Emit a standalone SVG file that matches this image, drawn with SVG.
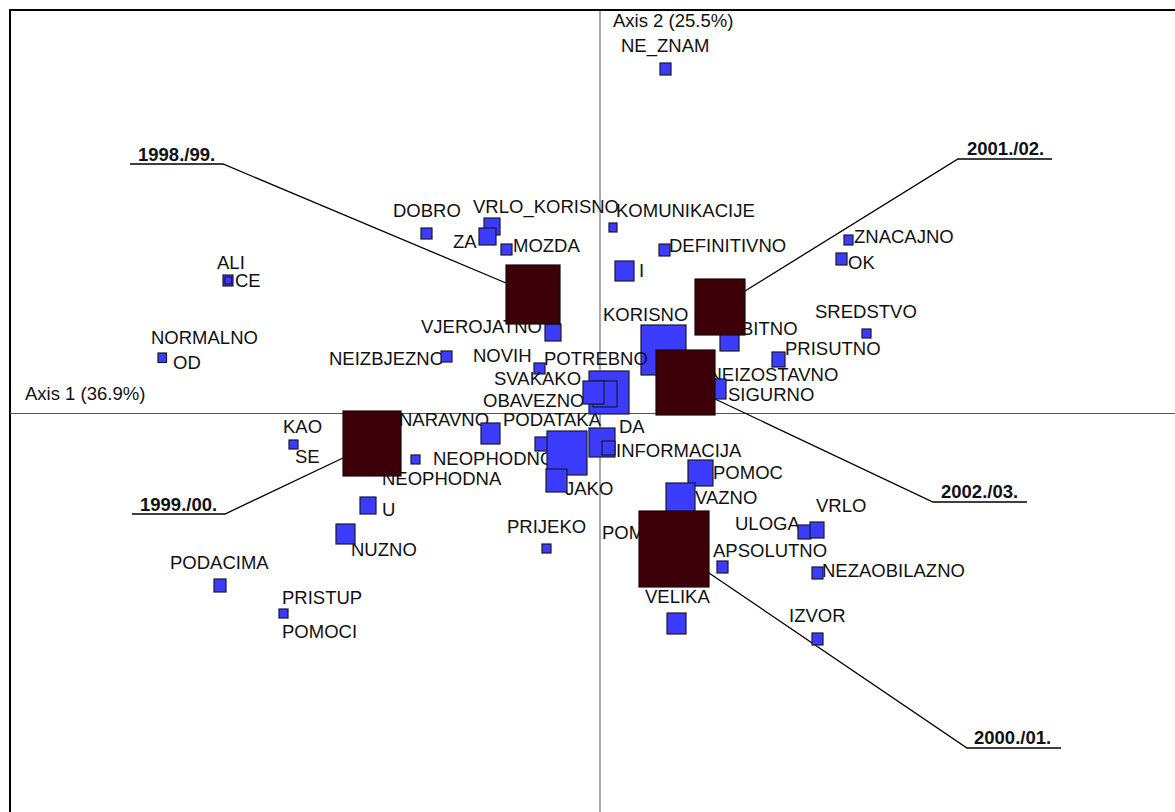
<svg xmlns="http://www.w3.org/2000/svg" width="1175" height="812" viewBox="0 0 1175 812">
<style>
text{font-family:"Liberation Sans",Arial,sans-serif;font-size:18.5px;fill:#111}
.yr{font-weight:bold}
.b{fill:#3c3cff;stroke:#1a1a2a;stroke-width:1.2}
.p{fill:#3d0008;stroke:#1a0a0a;stroke-width:1.2}
.ax{stroke:#555;stroke-width:1}
.ld{fill:none;stroke:#000;stroke-width:1.3}
</style>
<rect width="1175" height="812" fill="#fff"/>
<path d="M10,812 V10 H1175" fill="none" stroke="#000" stroke-width="2"/>
<g id="axes">
<line class="ax" x1="10" y1="413.5" x2="1175" y2="413.5"/>
<line class="ax" x1="600" y1="10" x2="600" y2="812"/>
<text x="25" y="400">Axis 1 (36.9%)</text>
<text x="613" y="27">Axis 2 (25.5%)</text>
</g>
<g id="connectors">
<polyline class="ld" points="130,164 223,164 506,283"/>
<polyline class="ld" points="1052,159 958,159 745,291"/>
<polyline class="ld" points="1027,502 933,502 715,399"/>
<polyline class="ld" points="132,514 225,514 343,458"/>
<polyline class="ld" points="1061,748 967,748 709,573"/>
</g>
<g id="n-ne_znam"><text x="621" y="52">NE_ZNAM</text><rect class="b" x="660" y="63" width="11" height="12"/></g>
<g id="n-dobro"><text x="393" y="217">DOBRO</text><rect class="b" x="421" y="228" width="11" height="11"/></g>
<g id="n-vrlo_korisno"><text x="473" y="213">VRLO_KORISNO</text><rect class="b" x="484" y="218" width="16" height="17"/></g>
<g id="n-za"><text x="453" y="248">ZA</text><rect class="b" x="479" y="228" width="17" height="17"/></g>
<g id="n-mozda"><text x="513" y="252">MOZDA</text><rect class="b" x="501" y="244" width="11" height="11"/></g>
<g id="n-komunikacije"><text x="616" y="216.5">KOMUNIKACIJE</text><rect class="b" x="609" y="223" width="8" height="9"/></g>
<g id="n-definitivno"><text x="669" y="252">DEFINITIVNO</text><rect class="b" x="659" y="244" width="11" height="12"/></g>
<g id="n-i"><text x="639" y="276.5">I</text><rect class="b" x="615" y="261" width="19" height="20"/></g>
<g id="n-znacajno"><text x="854" y="242.5">ZNACAJNO</text><rect class="b" x="844" y="235" width="9" height="10"/></g>
<g id="n-ok"><text x="848" y="269">OK</text><rect class="b" x="836" y="253" width="11" height="12"/></g>
<g id="n-ali"><text x="217" y="269">ALI</text><rect class="b" x="223" y="275" width="10" height="11"/></g>
<g id="n-ce"><text x="235" y="286.5">CE</text><rect class="b" x="225" y="277" width="6.5" height="7"/></g>
<g id="n-normalno"><text x="151" y="344">NORMALNO</text></g>
<g id="n-od"><text x="173" y="368.5">OD</text><rect class="b" x="158" y="353" width="8.5" height="9.5"/></g>
<g id="n-sredstvo"><text x="815" y="318">SREDSTVO</text><rect class="b" x="862" y="329" width="9" height="9"/></g>
<g id="n-vjerojatno"><text x="421" y="333">VJEROJATNO</text><rect class="b" x="545" y="324" width="16" height="17"/></g>
<g id="n-korisno"><text x="603" y="320.5">KORISNO</text><rect class="b" x="641" y="325" width="45" height="50"/></g>
<g id="n-bitno"><text x="741" y="335">BITNO</text><rect class="b" x="720" y="332" width="19" height="19"/></g>
<g id="n-neizbjezno"><text x="329" y="365">NEIZBJEZNO</text><rect class="b" x="441" y="351" width="11" height="11"/></g>
<g id="n-novih"><text x="473" y="362">NOVIH</text><rect class="b" x="534" y="363" width="11" height="11"/></g>
<g id="n-svakako"><text x="494" y="385">SVAKAKO</text></g>
<g id="n-obavezno"><text x="483" y="406.5">OBAVEZNO</text></g>
<g id="n-potrebno"><text x="544" y="365">POTREBNO</text><rect class="b" x="589" y="371" width="40" height="43"/><rect class="b" x="593" y="381" width="24" height="26"/><rect class="b" x="583" y="381" width="21" height="23"/></g>
<g id="n-prisutno"><text x="785" y="355">PRISUTNO</text><rect class="b" x="772" y="352" width="13" height="15"/></g>
<g id="n-neizostavno"><text x="708.5" y="380.5">NEIZOSTAVNO</text></g>
<g id="n-sigurno"><text x="728" y="400.5">SIGURNO</text><rect class="b" x="706" y="379" width="20" height="20"/></g>
<g id="n-kao"><text x="283" y="432.5">KAO</text><rect class="b" x="289" y="440" width="9" height="9"/></g>
<g id="n-se"><text x="295" y="463">SE</text></g>
<g id="n-naravno"><text x="399" y="426">NARAVNO</text><rect class="b" x="481" y="423" width="19" height="21"/></g>
<g id="n-neophodno"><text x="433" y="465">NEOPHODNO</text><rect class="b" x="411" y="455" width="9" height="9"/></g>
<g id="n-neophodna"><text x="382" y="485">NEOPHODNA</text></g>
<g id="n-podataka"><text x="503" y="426">PODATAKA</text><rect class="b" x="535" y="437" width="13" height="14"/><rect class="b" x="547" y="431" width="40" height="44"/></g>
<g id="n-jako"><text x="565" y="494.5">JAKO</text><rect class="b" x="546" y="469" width="21" height="23"/></g>
<g id="n-da"><text x="619" y="432.5">DA</text><rect class="b" x="589" y="428" width="26" height="29"/></g>
<g id="n-informacija"><text x="616" y="456.5">INFORMACIJA</text><rect class="b" x="602" y="441" width="13" height="14"/></g>
<g id="n-pomoc"><text x="713" y="479">POMOC</text><rect class="b" x="688" y="460" width="25" height="26"/></g>
<g id="n-vazno"><text x="695" y="504">VAZNO</text><rect class="b" x="666" y="483" width="29" height="29"/></g>
<g id="n-u"><text x="382" y="516">U</text><rect class="b" x="360" y="497" width="16" height="17"/></g>
<g id="n-nuzno"><text x="351" y="556">NUZNO</text><rect class="b" x="336" y="524" width="19" height="20"/></g>
<g id="n-uloga"><text x="735" y="530">ULOGA</text><rect class="b" x="798" y="525" width="13" height="14"/></g>
<g id="n-vrlo"><text x="816" y="511.5">VRLO</text><rect class="b" x="810" y="522" width="14" height="16"/></g>
<g id="n-prijeko"><text x="507" y="533">PRIJEKO</text><rect class="b" x="542" y="544" width="9" height="9"/></g>
<g id="n-pom"><text x="602" y="539">POM</text></g>
<g id="n-apsolutno"><text x="713" y="557">APSOLUTNO</text><rect class="b" x="717" y="561" width="11" height="12"/></g>
<g id="n-nezaobilazno"><text x="822" y="577">NEZAOBILAZNO</text><rect class="b" x="812" y="567" width="11" height="12"/></g>
<g id="n-podacima"><text x="170" y="569">PODACIMA</text><rect class="b" x="214" y="579" width="12" height="13"/></g>
<g id="n-velika"><text x="645" y="602.5">VELIKA</text><rect class="b" x="667" y="613" width="19" height="21"/></g>
<g id="n-pristup"><text x="282" y="604">PRISTUP</text><rect class="b" x="279" y="609" width="9" height="9"/></g>
<g id="n-pomoci"><text x="282" y="638">POMOCI</text></g>
<g id="n-izvor"><text x="789" y="621.5">IZVOR</text><rect class="b" x="812" y="633" width="11" height="12"/></g>
<g id="y-1998"><rect class="p" x="506" y="265" width="54" height="59"/><text class="yr" x="138" y="161">1998./99.</text></g>
<g id="y-2001"><rect class="p" x="695" y="279" width="50" height="56"/><text class="yr" x="967" y="155">2001./02.</text></g>
<g id="y-2002"><rect class="p" x="656" y="350" width="59" height="65"/><text class="yr" x="941" y="498">2002./03.</text></g>
<g id="y-1999"><rect class="p" x="343" y="411" width="58" height="65"/><text class="yr" x="140" y="511">1999./00.</text></g>
<g id="y-2000"><rect class="p" x="639" y="511" width="70" height="76"/><text class="yr" x="974" y="744">2000./01.</text></g>
</svg>
